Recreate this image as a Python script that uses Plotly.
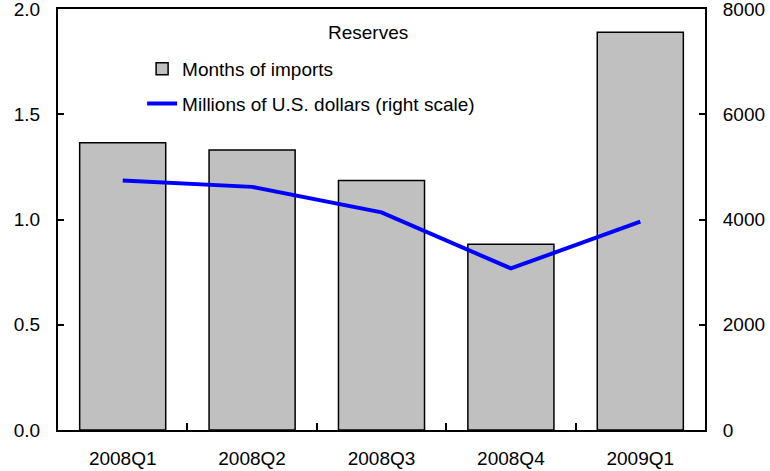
import plotly.graph_objects as go

quarters = ["2008Q1", "2008Q2", "2008Q3", "2008Q4", "2009Q1"]
months_of_imports = [1.365, 1.33, 1.185, 0.882, 1.89]
millions_usd = [4740, 4620, 4135, 3070, 3960]

left_ticks = [0, 0.5, 1.0, 1.5, 2.0]
left_ticklabels = ["0.0", "0.5", "1.0", "1.5", "2.0"]
right_ticks = [0, 2000, 4000, 6000, 8000]

FONT = "Liberation Sans, Arial, sans-serif"
FS = 19

fig = go.Figure()
fig.add_trace(go.Bar(
    x=quarters, y=months_of_imports, name="Months of imports",
    marker=dict(color="#C0C0C0", line=dict(color="black", width=1.5)),
    legendgroup="a",
))
fig.add_trace(go.Scatter(
    x=quarters, y=millions_usd, name="Millions of U.S. dollars (right scale)",
    mode="lines", line=dict(color="#0000FF", width=4), yaxis="y2",
    legendgroup="b",
))

fig.update_layout(
    width=770, height=471,
    margin=dict(l=58, r=65, t=9, b=41, autoexpand=False),
    paper_bgcolor="white", plot_bgcolor="white",
    font=dict(family=FONT, size=FS, color="black"),
    bargap=0.335,
    showlegend=True,
    legend=dict(
        x=0.130, xanchor="left", y=0.903, yanchor="top",
        bgcolor="rgba(0,0,0,0)", font=dict(size=FS),
        traceorder="grouped", tracegroupgap=7,
    ),
    xaxis=dict(
        showline=True, linecolor="black", linewidth=2, mirror=True,
        ticks="inside", tickson="boundaries", ticklen=7, tickcolor="black", tickwidth=2,
        showgrid=False, ticklabelstandoff=10, automargin=False,
    ),
    yaxis=dict(
        range=[0, 2.0], tickvals=left_ticks, ticktext=left_ticklabels,
        showline=True, linecolor="black", linewidth=2,
        ticks="inside", ticklen=6, tickcolor="black", tickwidth=2,
        showgrid=False, zeroline=False, ticklabelstandoff=12, automargin=False,
        ticklabeloverflow="allow",
    ),
    yaxis2=dict(
        range=[0, 8000], tickvals=right_ticks, overlaying="y", side="right",
        showline=True, linecolor="black", linewidth=2,
        ticks="inside", ticklen=6, tickcolor="black", tickwidth=2,
        showgrid=False, zeroline=False, ticklabelstandoff=12, automargin=False,
        ticklabeloverflow="allow",
    ),
    annotations=[dict(
        text="Reserves", x=0.479, y=0.945, xref="paper", yref="paper",
        showarrow=False, font=dict(size=FS), xanchor="center", yanchor="middle",
    )],
)

fig.write_html("out.html")
